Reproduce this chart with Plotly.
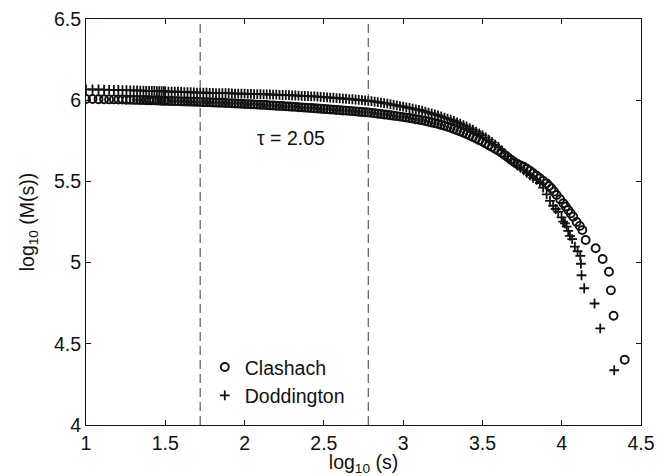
import plotly.graph_objects as go

# ---- data ----
x_head = [1.000, 1.041, 1.079, 1.114, 1.146, 1.176, 1.204, 1.230, 1.255, 1.279, 1.301,
          1.322, 1.342, 1.362, 1.380, 1.398, 1.415, 1.431, 1.447, 1.462, 1.477, 1.491]
clashach_head = [6.007, 6.007, 6.006, 6.006, 6.005, 6.005, 6.004, 6.004, 6.003, 6.003, 6.002,
                 6.002, 6.001, 6.001, 6.000, 6.000, 5.999, 5.999, 5.998, 5.998, 5.997, 5.997]
doddington_head = [6.067, 6.066, 6.066, 6.065, 6.064, 6.064, 6.063, 6.062, 6.062, 6.061, 6.060,
                   6.060, 6.059, 6.059, 6.058, 6.058, 6.057, 6.057, 6.056, 6.056, 6.055, 6.055]

x_band = [1.50, 1.52, 1.54, 1.56, 1.58, 1.60, 1.62, 1.64, 1.66, 1.68,
          1.70, 1.72, 1.74, 1.76, 1.78, 1.80, 1.82, 1.84, 1.86, 1.88,
          1.90, 1.92, 1.94, 1.96, 1.98, 2.00, 2.02, 2.04, 2.06, 2.08,
          2.10, 2.12, 2.14, 2.16, 2.18, 2.20, 2.22, 2.24, 2.26, 2.28,
          2.30, 2.32, 2.34, 2.36, 2.38, 2.40, 2.42, 2.44, 2.46, 2.48,
          2.50, 2.52, 2.54, 2.56, 2.58, 2.60, 2.62, 2.64, 2.66, 2.68,
          2.70, 2.72, 2.74, 2.76, 2.78, 2.80, 2.82, 2.84, 2.86, 2.88,
          2.90, 2.92, 2.94, 2.96, 2.98, 3.00, 3.02, 3.04, 3.06, 3.08,
          3.10, 3.12, 3.14, 3.16, 3.18, 3.20, 3.22, 3.24, 3.26, 3.28,
          3.30, 3.32, 3.34, 3.36, 3.38, 3.40, 3.42, 3.44, 3.46, 3.48,
          3.50, 3.52, 3.54, 3.56, 3.58, 3.60, 3.62, 3.64, 3.66, 3.68,
          3.70]
clashach_band = [5.996, 5.995, 5.995, 5.994, 5.994, 5.993, 5.992, 5.992, 5.991, 5.990,
                 5.990, 5.989, 5.988, 5.988, 5.987, 5.986, 5.985, 5.984, 5.984, 5.983,
                 5.982, 5.981, 5.980, 5.979, 5.978, 5.977, 5.976, 5.975, 5.974, 5.973,
                 5.972, 5.971, 5.970, 5.968, 5.967, 5.966, 5.965, 5.964, 5.962, 5.961,
                 5.960, 5.959, 5.957, 5.956, 5.954, 5.953, 5.952, 5.950, 5.949, 5.947,
                 5.946, 5.945, 5.943, 5.942, 5.940, 5.939, 5.937, 5.936, 5.934, 5.933,
                 5.931, 5.929, 5.927, 5.926, 5.924, 5.922, 5.920, 5.917, 5.915, 5.912,
                 5.910, 5.907, 5.904, 5.902, 5.899, 5.896, 5.893, 5.890, 5.887, 5.883,
                 5.880, 5.876, 5.872, 5.867, 5.863, 5.858, 5.853, 5.847, 5.842, 5.836,
                 5.830, 5.823, 5.815, 5.808, 5.800, 5.792, 5.783, 5.773, 5.764, 5.754,
                 5.745, 5.734, 5.723, 5.712, 5.701, 5.690, 5.676, 5.662, 5.648, 5.634,
                 5.620]
doddington_band = [6.054, 6.053, 6.053, 6.052, 6.052, 6.051, 6.050, 6.050, 6.049, 6.048,
                   6.047, 6.047, 6.046, 6.046, 6.045, 6.045, 6.044, 6.044, 6.043, 6.043,
                   6.043, 6.042, 6.041, 6.041, 6.040, 6.040, 6.039, 6.039, 6.038, 6.037,
                   6.037, 6.036, 6.036, 6.035, 6.034, 6.034, 6.033, 6.032, 6.031, 6.031,
                   6.030, 6.029, 6.028, 6.027, 6.026, 6.025, 6.024, 6.023, 6.022, 6.020,
                   6.019, 6.018, 6.016, 6.015, 6.013, 6.012, 6.010, 6.009, 6.007, 6.006,
                   6.004, 6.002, 6.000, 5.998, 5.996, 5.994, 5.991, 5.988, 5.985, 5.982,
                   5.979, 5.975, 5.971, 5.968, 5.964, 5.960, 5.956, 5.952, 5.948, 5.944,
                   5.940, 5.935, 5.929, 5.924, 5.918, 5.912, 5.906, 5.900, 5.893, 5.887,
                   5.880, 5.872, 5.864, 5.855, 5.847, 5.838, 5.828, 5.818, 5.807, 5.796,
                   5.785, 5.771, 5.757, 5.742, 5.727, 5.712, 5.693, 5.674, 5.654, 5.635,
                   5.615]

clashach_tail_x = [3.72, 3.74, 3.76, 3.78, 3.80, 3.82, 3.842, 3.862, 3.884, 3.905, 3.920,
                   3.936, 3.952, 3.968, 3.990, 4.010, 4.025, 4.041, 4.057, 4.073, 4.094,
                   4.114, 4.130, 4.151, 4.214, 4.258, 4.298, 4.310, 4.327, 4.397]
clashach_tail_y = [5.607, 5.598, 5.590, 5.578, 5.565, 5.550, 5.535, 5.519, 5.503, 5.488, 5.472,
                   5.457, 5.437, 5.416, 5.390, 5.365, 5.345, 5.324, 5.303, 5.283, 5.250,
                   5.226, 5.200, 5.139, 5.088, 5.022, 4.944, 4.829, 4.673, 4.402]
doddington_tail_x = [3.72, 3.74, 3.76, 3.78, 3.80, 3.82, 3.842, 3.862, 3.883, 3.905, 3.926,
                     3.946, 3.962, 3.978, 3.999, 4.009, 4.020, 4.031, 4.041, 4.052, 4.066,
                     4.083, 4.100, 4.117, 4.121, 4.125, 4.142, 4.207, 4.243, 4.331]
doddington_tail_y = [5.598, 5.583, 5.568, 5.552, 5.537, 5.522, 5.509, 5.490, 5.462, 5.420, 5.380,
                     5.350, 5.330, 5.313, 5.278, 5.252, 5.242, 5.221, 5.195, 5.165, 5.145,
                     5.098, 5.070, 5.042, 4.993, 4.922, 4.842, 4.748, 4.595, 4.337]

scaling_bounds = [1.72, 2.78]
tau_label = "τ = 2.05"
tau_pos = (2.29, 5.765)

x_ticks = [1, 1.5, 2, 2.5, 3, 3.5, 4, 4.5]
y_ticks = [4, 4.5, 5, 5.5, 6, 6.5]

FONT = "Liberation Sans, Arial, Helvetica, sans-serif"
INK = "#111111"
FS = 19.5

fig = go.Figure()
fig.add_trace(go.Scatter(
    x=x_head + x_band + clashach_tail_x,
    y=clashach_head + clashach_band + clashach_tail_y,
    mode="markers", name="Clashach",
    marker=dict(symbol="circle-open", size=8, color=INK, line=dict(width=1.9, color=INK)),
))
fig.add_trace(go.Scatter(
    x=x_head + x_band + doddington_tail_x,
    y=doddington_head + doddington_band + doddington_tail_y,
    mode="markers", name="Doddington",
    marker=dict(symbol="cross-thin-open", size=7, color=INK, line=dict(width=1.8, color=INK)),
))

for xb in scaling_bounds:
    fig.add_shape(type="line", xref="x", yref="paper", x0=xb, x1=xb, y0=0, y1=1,
                  line=dict(color="#3a3a3a", width=1, dash="9px,5px"))

fig.add_annotation(x=tau_pos[0], y=tau_pos[1], text=tau_label, showarrow=False,
                   font=dict(family=FONT, size=FS, color=INK))

axis_common = dict(
    showgrid=False, zeroline=False, showline=True, linecolor=INK, linewidth=1.2,
    mirror="ticks", ticks="inside", ticklen=5, tickcolor=INK, tickwidth=1,
    tickfont=dict(family=FONT, size=FS, color=INK), automargin=False,
    ticklabeloverflow="allow",
)
fig.update_xaxes(range=[1, 4.5], tickvals=x_ticks, ticktext=[f"{v:g}" for v in x_ticks],
                 title=dict(text="log<sub>10</sub> (s)", standoff=0,
                            font=dict(family=FONT, size=FS, color=INK)),
                 **axis_common)
fig.update_yaxes(range=[4, 6.5], tickvals=y_ticks, ticktext=[f"{v:g}" for v in y_ticks],
                 title=dict(text="log<sub>10</sub> (M(s))", standoff=14,
                            font=dict(family=FONT, size=FS, color=INK)),
                 **axis_common)

# the page body adds an 8px margin, so the figure is 8px smaller and its margins shifted
fig.update_layout(
    width=661, height=468,
    margin=dict(l=78, r=28, t=11, b=51),
    paper_bgcolor="white", plot_bgcolor="white",
    showlegend=True,
    legend=dict(x=0.214, y=0.19, xanchor="left", yanchor="top",
                bgcolor="rgba(0,0,0,0)", borderwidth=0, tracegroupgap=0,
                font=dict(family=FONT, size=FS, color=INK)),
)

fig.write_html("out.html")
